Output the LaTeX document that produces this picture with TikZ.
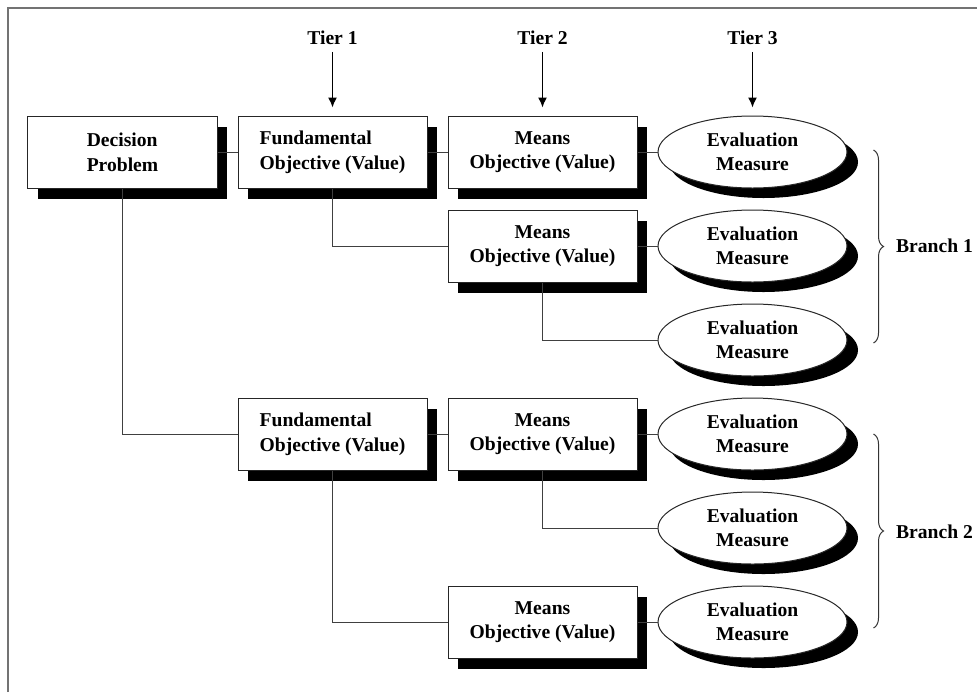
\documentclass[tikz,border=0pt]{standalone}
\usepackage{fontspec}
\setmainfont{Liberation Serif}
\usetikzlibrary{shapes.geometric,shadows,arrows.meta,decorations.pathreplacing}

\begin{document}
\begin{tikzpicture}[
    font=\bfseries\fontsize{9.8}{12.3}\selectfont,
    objbox/.style={rectangle, draw=black!85, line width=0.5pt, fill=white, align=center, minimum width=94.5pt, minimum height=36pt, inner sep=0pt, drop shadow={shadow xshift=5pt, shadow yshift=-5.5pt, fill=black, opacity=1}},
    measure/.style={ellipse, draw=black!85, line width=0.5pt, fill=white, align=center, minimum width=94.5pt, minimum height=36pt, inner sep=0pt, drop shadow={shadow xshift=5.5pt, shadow yshift=-5pt, fill=black, opacity=1}},
    link/.style={draw=black!75, line width=0.5pt},
    tierarrow/.style={-{Latex[length=5pt,width=4.5pt]}, line width=0.7pt, shorten >=4pt},
    branchbrace/.style={decorate, decoration={brace, amplitude=5pt}, draw=black!80, line width=0.5pt}
]
    \useasboundingbox (-61.25pt,76pt) rectangle (427.25pt,-270pt);
    \draw[black!55, line width=1pt] (-57.25pt,-270pt) -- (-57.25pt,72pt) -- (427.25pt,72pt);

    % first row
    \node[objbox, align=left] (dp) at (0,0) {Decision\\Problem};
    \node[objbox, align=left, xshift=105pt] (f1) at (dp) {Fundamental\\Objective (Value)};
    \node[objbox, xshift=105pt] (m1) at (f1) {Means\\Objective (Value)};
    \node[measure, xshift=105pt] (e1) at (m1) {Evaluation\\Measure};

    % branch 1
    \node[objbox, yshift=-47pt] (m2) at (m1) {Means\\Objective (Value)};
    \node[measure, yshift=-47pt] (e2) at (e1) {Evaluation\\Measure};
    \node[measure, yshift=-94pt] (e3) at (e1) {Evaluation\\Measure};

    % branch 2
    \node[objbox, align=left, yshift=-141pt] (f2) at (f1) {Fundamental\\Objective (Value)};
    \node[objbox, yshift=-141pt] (m3) at (m1) {Means\\Objective (Value)};
    \node[measure, yshift=-141pt] (e4) at (e1) {Evaluation\\Measure};
    \node[measure, yshift=-188pt] (e5) at (e1) {Evaluation\\Measure};
    \node[objbox, yshift=-235pt] (m4) at (m1) {Means\\Objective (Value)};
    \node[measure, yshift=-235pt] (e6) at (e1) {Evaluation\\Measure};

    % tiers
    \node[yshift=57pt] (t1) at (f1) {Tier 1};
    \node[yshift=57pt] (t2) at (m1) {Tier 2};
    \node[yshift=57pt] (t3) at (e1) {Tier 3};

    \node[xshift=91pt] (b1) at (e2) {Branch 1};
    \node[xshift=91pt, yshift=-2pt] (b2) at (e5) {Branch 2};

    \draw[tierarrow] (t1.south) -- (f1.north);
    \draw[tierarrow] (t2.south) -- (m1.north);
    \draw[tierarrow] (t3.south) -- (e1.north);

    \draw[link] (dp.east) -- (f1.west);
    \draw[link] (f1.east) -- (m1.west);
    \draw[link] (m1.east) -- (e1.west);
    \draw[link] (f1.south) |- (m2.west);
    \draw[link] (m2.east) -- (e2.west);
    \draw[link] (m2.south) |- (e3.west);
    \draw[link] (dp.south) |- (f2.west);
    \draw[link] (f2.east) -- (m3.west);
    \draw[link] (m3.east) -- (e4.west);
    \draw[link] (m3.south) |- (e5.west);
    \draw[link] (f2.south) |- (m4.west);
    \draw[link] (m4.east) -- (e6.west);

    \draw[branchbrace] ([xshift=13pt,yshift=1pt]e1.east) -- ([xshift=13pt,yshift=-1.5pt]e3.east);
    \draw[branchbrace] ([xshift=13pt,yshift=0pt]e4.east) -- ([xshift=13pt,yshift=-3pt]e6.east);
\end{tikzpicture}
\end{document}
